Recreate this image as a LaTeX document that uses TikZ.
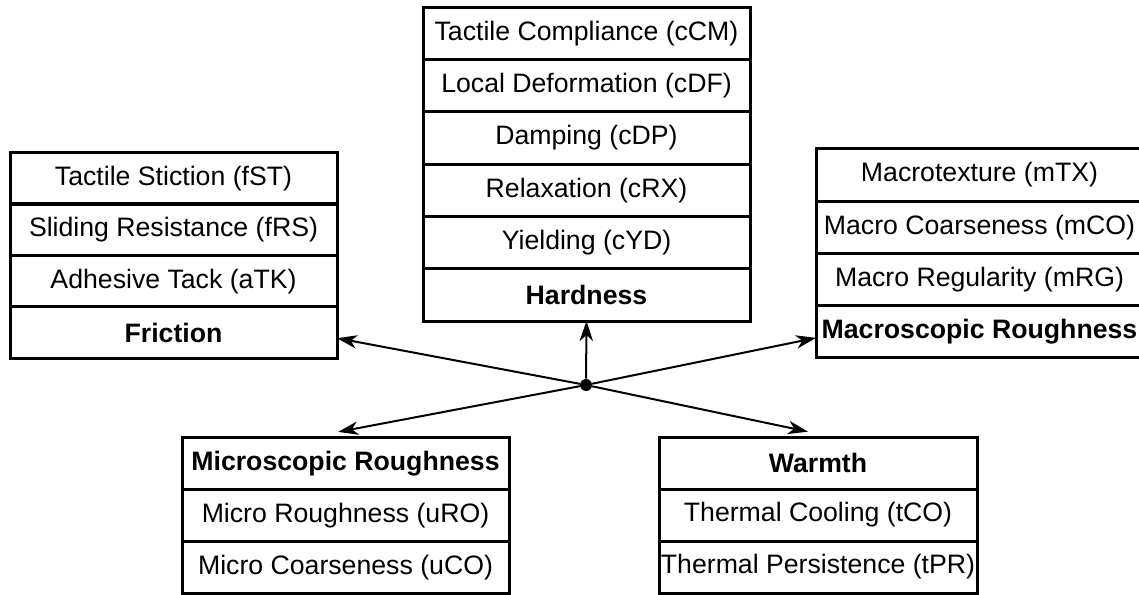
\documentclass[tikz,border=0pt]{standalone}
\usepackage{fontspec}
\setmainfont{Liberation Sans}
\usetikzlibrary{positioning,arrows.meta}

\tikzset{
  cell/.style={draw, line width=2.25pt, outer sep=0pt, inner sep=0pt,
    minimum width=245.25pt, minimum height=38.8pt,
    font=\fontsize{20}{24}\selectfont},
  head/.style={cell, font=\fontsize{20}{24}\selectfont\bfseries},
  link/.style={-{Stealth[length=15pt,width=10pt,inset=4.5pt]}, line width=1.5pt},
}

\begin{document}
\begin{tikzpicture}[x=0.75pt, y=-0.75pt]
   \useasboundingbox (0,0) rectangle (1139,595);
   % friction
   \foreach \i/\t in
     { 1/{Tactile Stiction (fST)},
       2/{Sliding Resistance (fRS)},
       3/{Adhesive Tack (aTK)}
     }
     \node[cell] (f\i) at (173.5, {178.6+(\i-1)*51.25}) {\t};
   \node[head, below=0pt of f3] (fric) {Friction};
   % hardness
   \foreach \i/\t in
     { 1/{Tactile Compliance (cCM)},
       2/{Local Deformation (cDF)},
       3/{Damping (cDP)},
       4/{Relaxation (cRX)},
       5/{Yielding (cYD)}
     }
     \node[cell, minimum height=39.25pt] (c\i) at (586.5, {33.2+(\i-1)*52.33}) {\t};
   \node[head, minimum height=39.25pt, below=0pt of c5] (hard) {Hardness};
   % macroscopic roughness
   \foreach \i/\t in
     { 1/{Macrotexture (mTX)},
       2/{Macro Coarseness (mCO)},
       3/{Macro Regularity (mRG)}
     }
     \node[cell, minimum height=39.2pt] (m\i) at (979.5, {175.1+(\i-1)*52.25}) {\t};
   \node[head, minimum height=39.2pt, below=0pt of m3] (macro) {Macroscopic Roughness};
   % microscopic roughness
   \foreach \i/\t in
     { 1/{Micro Roughness (uRO)},
       2/{Micro Coarseness (uCO)}
     }
     \node[cell] (u\i) at (345.5, {515.5+(\i-1)*51.67}) {\t};
   \node[head, above=0pt of u1] (micro) {Microscopic Roughness};
   % warmth
   \foreach \i/\t in
     { 1/{Thermal Cooling (tCO)},
       2/{Thermal Persistence (tPR)}
     }
     \node[cell, minimum width=238.5pt, minimum height=39pt] (t\i) at (818, {515+(\i-1)*52}) {\t};
   \node[head, minimum width=238.5pt, minimum height=39pt, above=0pt of t1] (warm) {Warmth};
   % hub
   \node[circle, fill, inner sep=0pt, minimum size=9pt] (hub) at (586,385) {};
   \draw[link] (hub) -- ([yshift=-4pt]fric.east);
   \draw[link] (hub) -- (hard.south);
   \draw[link] (hub) -- ([yshift=-4.5pt]macro.west);
   \draw[link] (hub) -- ([xshift=-5.5pt,yshift=4.5pt]micro.north);
   \draw[link] (hub) -- ([xshift=-7.5pt,yshift=4pt]warm.north);
\end{tikzpicture}
\end{document}
